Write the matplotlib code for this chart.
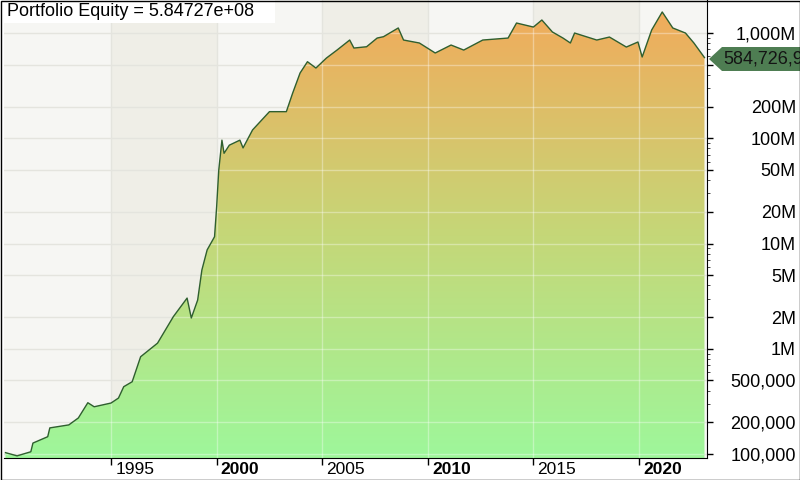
import numpy as np
import matplotlib
matplotlib.use("Agg")
import matplotlib.pyplot as plt
from matplotlib.colors import LinearSegmentedColormap
from matplotlib.patches import Polygon, Rectangle

# equity curve (year, equity in millions)
years = [1990.0, 1990.55, 1991.2, 1991.3, 1992.0, 1992.1, 1993.0, 1993.45, 1993.9, 1994.2,
         1995.0, 1995.35, 1995.6, 1996.0, 1996.4, 1997.2, 1997.95, 1998.6, 1998.8, 1999.1,
         1999.3, 1999.55, 1999.9, 2000.0, 2000.1, 2000.25, 2000.35, 2000.6, 2001.1, 2001.25,
         2001.7, 2002.5, 2003.3, 2003.6, 2003.95, 2004.3, 2004.7, 2005.2, 2005.7, 2006.3,
         2006.5, 2007.1, 2007.6, 2007.9, 2008.6, 2008.85, 2009.6, 2010.35, 2011.1, 2011.7,
         2012.6, 2013.8, 2014.2, 2015.0, 2015.4, 2015.9, 2016.4, 2016.75, 2016.95, 2018.0,
         2018.6, 2019.4, 2019.95, 2020.15, 2020.6, 2021.1, 2021.6, 2022.2, 2022.6, 2023.1]
equity_m = [0.103, 0.096, 0.105, 0.127, 0.146, 0.177, 0.189, 0.220, 0.307, 0.281,
            0.305, 0.340, 0.436, 0.486, 0.840, 1.13, 2.02, 3.03, 1.96, 2.90,
            5.6, 8.7, 11.6, 22.4, 49.9, 96, 72, 86, 96, 81,
            120, 179, 179, 269, 417, 534, 465, 579, 689, 858,
            720, 741, 896, 923, 1117, 858, 804, 646, 769, 689,
            858, 896, 1245, 1140, 1330, 1023, 896, 804, 1000, 858,
            916, 736, 822, 592, 1069, 1585, 1117, 1000, 804, 584.72695]

x_ticks = [1995, 2000, 2005, 2010, 2015, 2020]
y_ticks = [1e5, 2e5, 5e5, 1e6, 2e6, 5e6, 1e7, 2e7, 5e7, 1e8, 2e8, 5e8, 1e9]
y_labels = ["100,000", "200,000", "500,000", "1M", "2M", "5M", "10M", "20M", "50M",
            "100M", "200M", "500M", "1,000M"]

plt.rcParams['font.family'] = ['Liberation Sans', 'DejaVu Sans']

x = np.array(years)
y = np.array(equity_m) * 1e6
last = y[-1]

fig = plt.figure(figsize=(8, 4.8), dpi=100)
fig.patch.set_facecolor("white")
ax = fig.add_axes([4/800, 1 - 458/480, 703/800, 458/480])
ax.set_yscale("log")
ax.set_xlim(1989.93, 2023.22)
ax.set_ylim(9.16e4, 2.06e9)
ax.set_facecolor("#f6f6f3")

#alternating 5-year background bands
for start in [1995, 2005, 2015]:
    ax.axvspan(start, start + 5, color="#efeee7", zorder=0, lw=0)

ax.set_axisbelow(True)
ax.grid(True, which="major", color="#e4e4de", lw=1)

# gradient fill under the curve
fill = ax.fill_between(x, y, 1e4, color="none", lw=0)
cmap = LinearSegmentedColormap.from_list("eq", ["#9ef79b", "#c6d677", "#f3a95a"])
grad = np.linspace(0, 1, 256).reshape(-1, 1)
img = ax.imshow(grad, extent=[0, 1, 0, 1], transform=ax.transAxes, origin="lower",
                aspect="auto", cmap=cmap, zorder=2)
clip = fill.get_paths()[0]
img.set_clip_path(clip, transform=ax.transData)

# lighter gridlines over the fill
for t in y_ticks:
    ln = ax.axhline(t, color="white", alpha=0.35, lw=1, zorder=3)
    ln.set_clip_path(clip, transform=ax.transData)
for t in x_ticks:
    ln = ax.axvline(t, color="white", alpha=0.35, lw=1, zorder=3)
    ln.set_clip_path(clip, transform=ax.transData)

ax.plot(x, y, color="#2f5f2f", lw=1.0, zorder=4)

# axes styling
ax.spines["left"].set_visible(False)
ax.spines["top"].set_visible(False)
ax.yaxis.tick_right()
ax.set_yticks(y_ticks)
ax.set_yticklabels(y_labels)
ax.tick_params(axis="y", which="major", length=4, width=1, pad=60, labelsize=13)
ax.tick_params(axis="y", which="minor", length=2, width=0.5)
for lab in ax.get_yticklabels():
    lab.set_horizontalalignment("right")

ax.set_xticks(x_ticks)
ax.set_xticklabels([])
ax.tick_params(axis="x", length=5, width=1)
for t in x_ticks:
    ax.annotate(str(t), xy=(t, 0), xycoords=("data", "axes fraction"),
                xytext=(3, -8), textcoords="offset points", ha="left", va="center",
                fontsize=12.5, fontweight="bold" if t % 10 == 0 else "normal")

# title box
fig.patches.append(Rectangle((0, 1 - 23/480), 275/800, 23/480, transform=fig.transFigure,
                             facecolor="white", edgecolor="none", zorder=5))
fig.text(7/800, 1 - 12/480, f"Portfolio Equity = {last:.5e}", fontsize=13,
         va="center", ha="left", zorder=6)

# last value tag
def fp(px, py):
    return (px / 800, 1 - py / 480)
tag = Polygon([fp(709, 59), fp(722, 47), fp(800, 47), fp(800, 71), fp(722, 71)],
              closed=True, transform=fig.transFigure, facecolor="#4e7d52",
              edgecolor="none", zorder=5)
fig.patches.append(tag)
fig.text(723/800, 1 - 59/480, f"{last:,.0f}", fontsize=13, va="center", ha="left",
         color="#141414", zorder=6)

# outer frame
fig.patches.append(Rectangle((0.5/800, 0.5/480), 799/800, 479/480, transform=fig.transFigure,
                             facecolor="none", edgecolor="black", lw=1, zorder=7))

fig.savefig("out.png", dpi=100)
